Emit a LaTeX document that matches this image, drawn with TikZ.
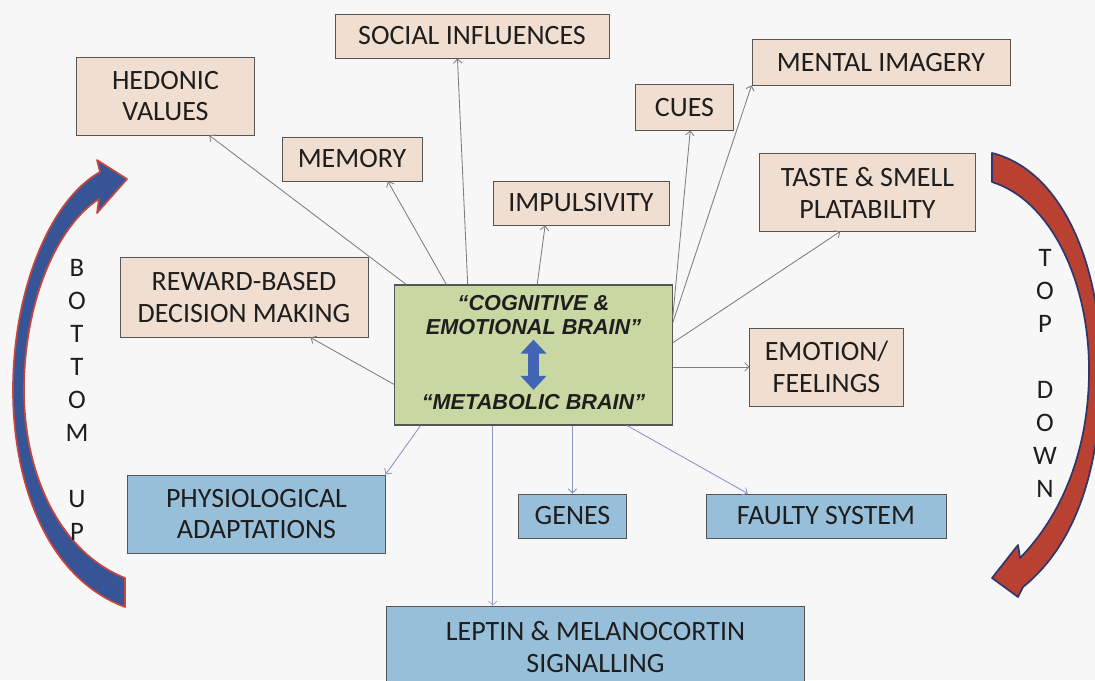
\documentclass[tikz,border=0pt]{standalone}
\usepackage{fontspec}
\setmainfont{Carlito}
\newfontfamily\brainfont{Liberation Sans}
\usetikzlibrary{positioning,arrows.meta}

\definecolor{bgcol}{RGB}{247,247,247}
\definecolor{peach}{RGB}{240,222,208}
\definecolor{skyblue}{RGB}{152,191,218}
\definecolor{olive}{RGB}{201,215,163}
\definecolor{boxline}{RGB}{85,85,85}
\definecolor{txt}{RGB}{30,30,30}
\definecolor{uparr}{RGB}{125,125,125}
\definecolor{downarr}{RGB}{140,145,195}
\definecolor{bufill}{RGB}{55,85,150}
\definecolor{buline}{RGB}{200,70,60}
\definecolor{tdfill}{RGB}{185,65,50}
\definecolor{tdline}{RGB}{45,55,110}
\definecolor{dblblue}{RGB}{65,100,180}

\begin{document}
\begin{tikzpicture}[x=0.025cm, y=-0.025cm,
  peachbox/.style={rectangle, draw=boxline, line width=0.6pt, fill=peach, align=center, text=txt, font=\fontsize{19.9}{22.7}\selectfont},
  bluebox/.style={peachbox, fill=skyblue},
  brainbox/.style={rectangle, draw=boxline, line width=0.8pt, fill=olive, minimum width=6.93cm, minimum height=3.5cm},
  braintxt/.style={align=center, inner sep=0pt, text=txt, font=\brainfont\bfseries\itshape\fontsize{15.4}{17.7}\selectfont},
  updown/.style={align=center, text=txt, font=\fontsize{19}{23.4}\selectfont},
  link/.style={uparr, line width=0.6pt, -{Straight Barb[length=3pt,width=6pt]}},
  downlink/.style={link, downarr},
  dblarrow/.style={dblblue, line width=8.5pt, {Triangle[length=10pt,width=18pt]}-{Triangle[length=10pt,width=18pt]}},
  bucurve/.style={fill=bufill, draw=buline, line width=1.2pt, line join=round},
  tdcurve/.style={fill=tdfill, draw=tdline, line width=1.2pt, line join=round}
]

% Background
\fill[bgcol] (0,0) rectangle (1095,680);
\useasboundingbox (0,0) rectangle (1095,680);

% Centre box
\node[brainbox] (brain) at (533.5,355) {};
\node[braintxt] (cog) at (533.5,315) {“COGNITIVE \&\\EMOTIONAL BRAIN”};
\node[braintxt] (met) at (533.5,402) {“METABOLIC BRAIN”};
\draw[dblarrow, shorten <=3pt, shorten >=3pt] (cog) -- (met);

% Upper boxes
\node[peachbox, minimum width=4.43cm, minimum height=1.95cm] (hed) at (165.5,96) {HEDONIC\\VALUES};
\node[peachbox, minimum width=6.85cm, minimum height=1.1cm] (soc) at (472,36) {SOCIAL INFLUENCES};
\node[peachbox, minimum width=3.5cm, minimum height=1.1cm] (mem) at (352,159) {MEMORY};
\node[peachbox, minimum width=4.4cm, minimum height=1.1cm] (imp) at (581,203) {IMPULSIVITY};
\node[peachbox, minimum width=2.43cm, minimum height=1.13cm] (cue) at (684.5,107.5) {CUES};
\node[peachbox, minimum width=6.45cm, minimum height=1.13cm] (men) at (881,62.5) {MENTAL IMAGERY};
\node[peachbox, minimum width=5.38cm, minimum height=1.93cm] (tas) at (867.5,192.5) {TASTE \& SMELL\\PLATABILITY};
\node[peachbox, minimum width=6.2cm, minimum height=1.98cm] (rew) at (244,297.5) {REWARD-BASED\\DECISION MAKING};
\node[peachbox, minimum width=3.83cm, minimum height=1.95cm] (emo) at (826.5,367) {EMOTION/\\FEELINGS};

% Lower boxes
\node[bluebox, minimum width=6.43cm, minimum height=1.95cm] (phy) at (256.5,514) {PHYSIOLOGICAL\\ADAPTATIONS};
\node[bluebox, minimum width=2.68cm, minimum height=1.1cm] (gen) at (572.5,516) {GENES};
\node[bluebox, minimum width=6cm, minimum height=1.1cm] (fau) at (826,516) {FAULTY SYSTEM};
\node[bluebox, minimum width=10.43cm, minimum height=2.05cm] (lep) at (595.5,647) {LEPTIN \& MELANOCORTIN\\SIGNALLING};

% Links out of the centre
\draw[link] (brain.151) -- (hed.-42);
\draw[link] (brain.141) -- (mem.-32);
\draw[link] (brain.133) -- (soc.237.5);
\draw[link] (brain.87) -- (imp.212);
\draw[link] (brain.15) -- (cue.-76);
\draw[link] (brain.13) -- (men.190.7);
\draw[link] (brain.5) -- (tas.235.5);
\draw[link] (emo.west -| brain.east) -- (emo.west);
\draw[link] (brain.192) -- (rew.-31.7);
\draw[downlink] (brain.212) -- (phy.17.8);
\draw[downlink, line width=0.4pt] (brain.240) -- (brain.240 |- lep.north);
\draw[downlink] (gen.north |- brain.south) -- (gen.north);
\draw[downlink] (brain.-37.4) -- (fau.164.3);

% Bottom up / top down
\filldraw[bucurve] (125,607) .. controls (45,577) and (13,480) .. (13,390)
  .. controls (13,290) and (50,200) .. (100,172) -- (97,160) -- (127,179)
  -- (97,213) -- (99,199) .. controls (58,225) and (24,300) .. (24,390)
  .. controls (24,475) and (60,552) .. (125,578) -- cycle;
\filldraw[tdcurve] (992,153) .. controls (1060,170) and (1101,260) .. (1101,370)
  .. controls (1101,470) and (1075,545) .. (1023,587) -- (1018,597) -- (992,578)
  -- (1018,545) -- (1020,558) .. controls (1062,515) and (1089,450) .. (1089,370)
  .. controls (1089,280) and (1050,200) .. (992,182) -- cycle;
\node[updown] (bu) at (77,400) {B\\O\\T\\T\\O\\M\\[23.4pt]U\\P};
\node[updown] (td) at (1045,373.5) {T\\O\\P\\[23.4pt]D\\O\\W\\N};

\end{tikzpicture}
\end{document}
